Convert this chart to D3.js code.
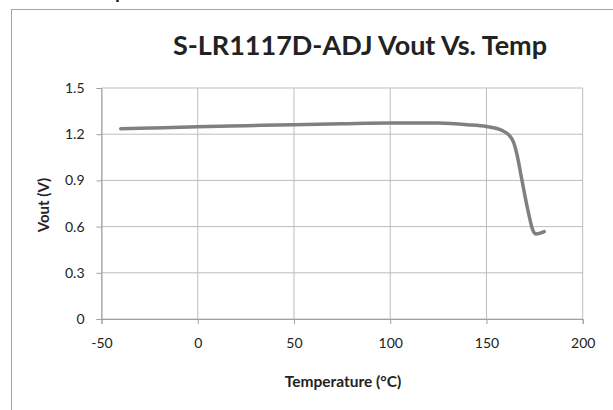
<!DOCTYPE html>
<html>
<head>
<meta charset="utf-8">
<script src="https://cdn.jsdelivr.net/npm/d3@7"></script>
<style>
  body { margin: 0; background: #fff; }
  svg { display: block; }
  text { font-family: Lato, "Open Sans", sans-serif; fill: #222; }
</style>
</head>
<body>
<div id="chart"></div>
<script>
// Vout vs temperature
const temps = [-40, -25, 0, 25, 50, 75, 100, 125, 140, 150, 158, 162, 164, 166, 168, 170, 172, 174, 175.5, 178, 180];
const vout  = [1.235, 1.24, 1.248, 1.255, 1.262, 1.268, 1.273, 1.272, 1.262, 1.25, 1.225, 1.19, 1.15, 1.06, 0.93, 0.8, 0.68, 0.58, 0.552, 0.558, 0.567];
const xTicks = [-50, 0, 50, 100, 150, 200];
const yTicks = [0, 0.3, 0.6, 0.9, 1.2, 1.5];

const W = 613, H = 410;
let margin = {top: 88, right: 30, bottom: 91, left: 101.5},
    width = 582.7 - margin.left,
    height = 319 - margin.top;

let svg = d3.select("#chart").append("svg")
  .attr("width", W).attr("height", H);

// outer chart frame (extends past the window)
svg.append("rect")
  .attr("x", 11.5).attr("y", 9.5)
  .attr("width", W + 20).attr("height", H + 20)
  .attr("fill", "none").attr("stroke", "#a6a6a6").attr("stroke-width", 1);

// descender of text sitting above the frame
svg.append("text")
  .attr("x", 115).attr("y", -2)
  .style("font-weight", "bold").style("font-size", "20px")
  .text("p");

let g = svg.append("g")
  .attr("transform", "translate(" + margin.left + "," + margin.top + ")");

let x = d3.scaleLinear().domain([-50, 200]).range([0, width]);
let y = d3.scaleLinear().domain([0, 1.5]).range([height, 0]);

// gridlines
g.selectAll(".vgrid").data(xTicks).enter().append("line")
  .attr("x1", d => x(d)).attr("x2", d => x(d))
  .attr("y1", 0).attr("y2", height)
  .attr("stroke", "#bdbdbd").attr("stroke-width", 1);
g.selectAll(".hgrid").data(yTicks).enter().append("line")
  .attr("x1", 0).attr("x2", width)
  .attr("y1", d => y(d)).attr("y2", d => y(d))
  .attr("stroke", "#bdbdbd").attr("stroke-width", 1);

// axes
let xAxis = g.append("g")
  .attr("transform", "translate(0," + height + ")")
  .call(d3.axisBottom(x).tickValues(xTicks).tickSize(5).tickPadding(14).tickFormat(d => String(d)));
let yAxis = g.append("g")
  .call(d3.axisLeft(y).tickValues(yTicks).tickSize(5).tickPadding(12).tickFormat(d => d === 0 ? "0" : d.toFixed(1)));

[xAxis, yAxis].forEach(function(a) {
  a.select(".domain").attr("stroke", "#a0a0a0");
  a.selectAll(".tick line").attr("stroke", "#a0a0a0");
  a.selectAll(".tick text")
    .style("font-family", "Lato, 'Open Sans', sans-serif")
    .style("font-size", "14px").attr("fill", "#222");
});

// the curve
g.append("path")
  .datum(temps.map((t, i) => [t, vout[i]]))
  .attr("fill", "none")
  .attr("stroke", "#808080")
  .attr("stroke-width", 3.5)
  .attr("stroke-linejoin", "round")
  .attr("stroke-linecap", "round")
  .attr("d", d3.line()
    .x(d => x(d[0]))
    .y(d => y(d[1]))
    .curve(d3.curveMonotoneX));

// title
svg.append("text")
  .attr("x", 360).attr("y", 55)
  .attr("text-anchor", "middle")
  .style("font-weight", "bold").style("font-size", "27px")
  .text("S-LR1117D-ADJ Vout Vs. Temp");

// axis labels
svg.append("text")
  .attr("x", 343).attr("y", 387)
  .attr("text-anchor", "middle")
  .style("font-weight", "bold").style("font-size", "15.5px")
  .text("Temperature (°C)");

svg.append("text")
  .attr("transform", "translate(49,205) rotate(-90)")
  .attr("text-anchor", "middle")
  .style("font-weight", "bold").style("font-size", "15px")
  .text("Vout (V)");
</script>
</body>
</html>
